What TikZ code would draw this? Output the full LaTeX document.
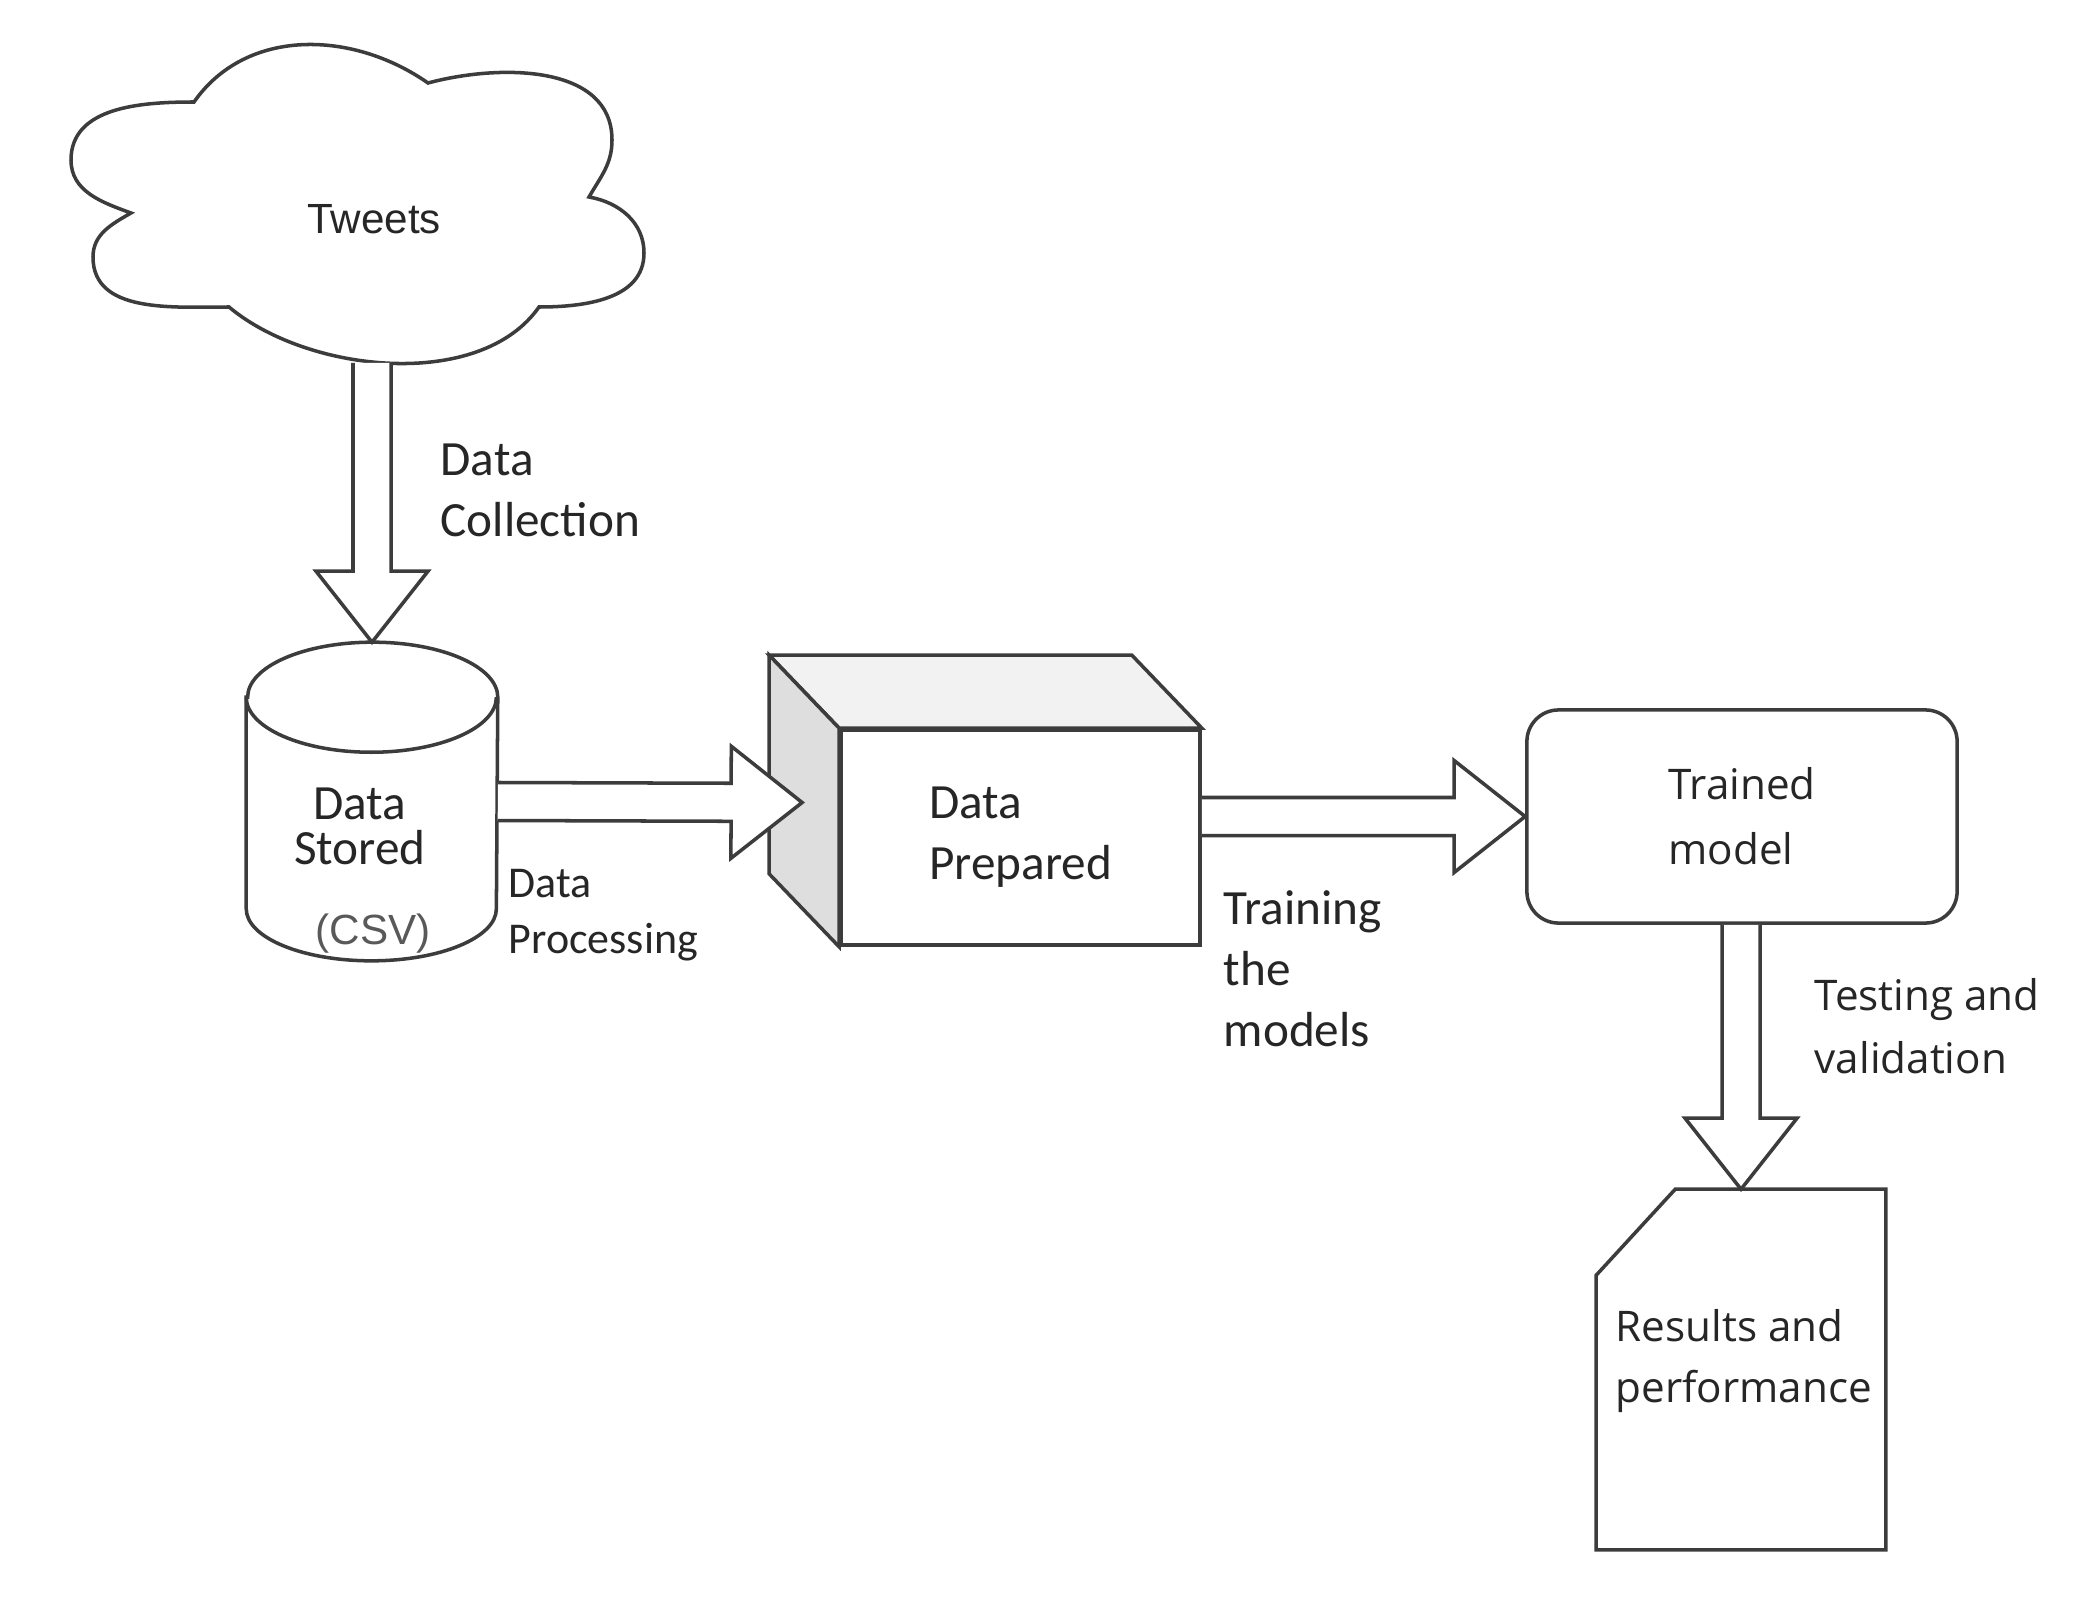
\documentclass[tikz,border=0pt]{standalone}
\usepackage{fontspec}
\setmainfont{Carlito}
\newfontfamily\arl{Liberation Sans}
\newfontfamily\osn{Open Sans}
\usetikzlibrary{positioning,calc}
\definecolor{ink}{HTML}{3C3C3C}
\definecolor{txt}{HTML}{262626}
\definecolor{sidegray}{HTML}{DEDEDE}
\definecolor{topgray}{HTML}{F2F2F2}
\newcommand{\fs}[2]{\fontsize{#1}{#2}\selectfont}
% hollow block arrow from #1 to #2
\newcommand{\hollow}[2]{%
  \path (#2) coordinate (tip) ($(#2)!0.71cm!(#1)$) coordinate (hb);
  \draw[ln,fill=white] ($(#1)!0.19cm!90:(#2)$) -- ($(hb)!0.19cm!90:(tip)$) -- ($(hb)!0.56cm!90:(tip)$)
    -- (tip) -- ($(hb)!0.56cm!-90:(tip)$) -- ($(hb)!0.19cm!-90:(tip)$) -- ($(#1)!0.19cm!-90:(#2)$);}
\tikzset{
  ln/.style    ={draw=ink, line width=1pt},
  cloudbox/.style={minimum width=5.73cm, minimum height=3.18cm, inner sep=0},
  dbcyl/.style ={minimum width=2.5cm, minimum height=3.17cm, inner sep=0},
  front/.style ={ln, fill=white, minimum width=3.59cm, minimum height=2.15cm, align=left,
                 font=\fs{14pt}{17.3pt}, text=txt},
  rbox/.style  ={ln, rounded corners=9pt, minimum width=4.3cm, minimum height=2.13cm, align=left,
                 font=\osn\fs{12pt}{18.4pt}, text=txt},
  docbox/.style={minimum width=2.88cm, minimum height=3.59cm, inner sep=0},
  lbl/.style   ={inner sep=0, align=left, anchor=west, text=txt},
}
\begin{document}
\begin{tikzpicture}[x=0.01cm,y=-0.01cm]
    \useasboundingbox[fill=white] (0,0) rectangle (2073,1603);

    \node[cloudbox] (twt) at (357.5,203) {};
    \node[dbcyl] (cyl) at (372,801.5) {};
    \node[front] (prep) at (1020.5,837.5) {Data\\Prepared};
    \node[rbox] (trm) at (1742,816.5) {Trained\\model};
    \node[docbox] (res) at (1741,1369.5) {};

    % cloud, six puffs
    \draw[ln,fill=white] (131,213) to[out=160,in=270] (71,160) to[out=90,in=180] (194,102)
      to[out=55,in=145] (428,83) to[out=15,in=90] (612,140) to[out=270,in=60] (589,197)
      to[out=-10,in=90] (644,253) to[out=270,in=0] (539,307)
      to[out=235,in=320,looseness=0.85] (229,307)
      to[out=180,in=270] (93,257) to[out=90,in=210] (131,213) -- cycle;
    % drum of the csv store
    \draw[ln,fill=white] ($(cyl.north west)+(0,55)$) -- ($(cyl.south west)+(0,-52)$)
      arc[start angle=180,end angle=360,x radius=1.25cm,y radius=0.52cm]
      -- ($(cyl.north east)+(0,55)$) arc[start angle=0,end angle=180,x radius=1.25cm,y radius=0.55cm] -- cycle;
    \draw[ln] ($(cyl.north west)+(0,55)$) arc[start angle=180,end angle=360,x radius=1.25cm,y radius=0.55cm];
    % 3d faces of the prepared box
    \draw[ln,fill=topgray] (prep.north west) -- ++(-70,-73) -- ($(prep.north east)+(-70,-73)$) -- (prep.north east) -- cycle;
    \draw[ln,fill=sidegray] (prep.north west) -- ++(-70,-73) -- ($(prep.south west)+(-70,-73)$) -- (prep.south west) -- cycle;
    % folded sheet
    \draw[ln] ($(res.north west)+(79,0)$) -- (res.north east) -- (res.south east) -- (res.south west)
      -- ($(res.north west)+(0,86)$) -- cycle;

    \node[lbl,font=\arl\fs{12pt}{14pt},anchor=center] (twl) at (374,219) {Tweets};
    \node[lbl,font=\fs{14pt}{13pt},anchor=center,align=center] (dst) at ($(cyl.center)+(-12,25)$) {Data\\Stored};
    \node[lbl,font=\arl\fs{12pt}{14pt},anchor=center,text=ink!85] (csv) at ($(cyl.center)+(1,132)$) {(CSV)};
    \node[lbl,font=\osn\fs{12pt}{17.6pt}] (rpf) at (1615,1361) {Results and\\performance};

    \coordinate (c1) at (cyl.north |- twt.south);
    \coordinate (pin) at ($(prep.west)+(-37,-35)$);
    \coordinate (c3) at (prep.east |- trm.west);
    \coordinate (c4) at (trm.south -| res.north);
    \hollow{c1}{cyl.north}
    \hollow{cyl.east}{pin}
    \hollow{c3}{trm.west}
    \hollow{c4}{res.north}

    \node[lbl,font=\fs{14pt}{17.3pt}] (lcol) at (440,490) {Data\\Collection};
    \node[lbl,font=\fs{12.5pt}{15.9pt}] (lpro) at (508,915) {Data\\Processing};
    \node[lbl,font=\fs{14pt}{17.3pt}] (ltra) at (1223,969) {Training\\the\\models};
    \node[lbl,font=\osn\fs{12pt}{18pt}] (ltst) at (1814,1026) {Testing and\\validation};
\end{tikzpicture}
\end{document}
